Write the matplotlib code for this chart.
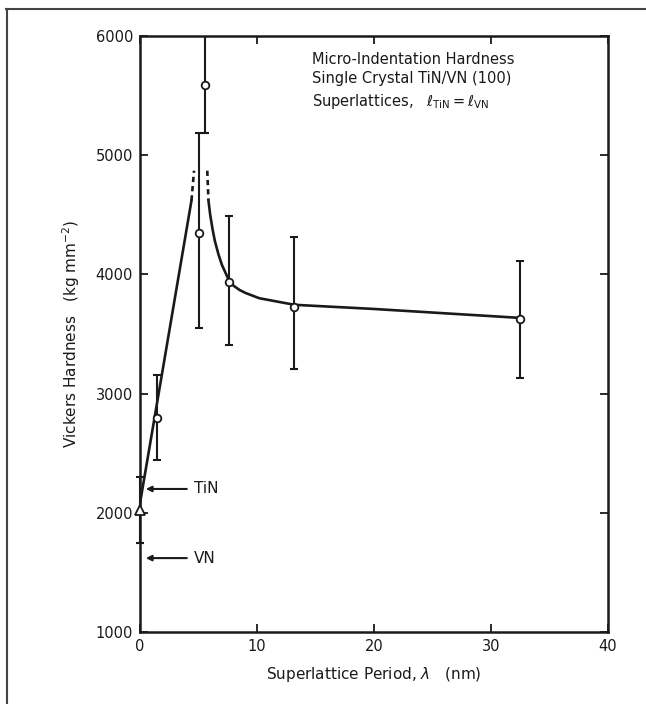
import matplotlib.pyplot as plt
from matplotlib.lines import Line2D

# measured hardness points with error bars
lam = [0.0, 1.45, 5.0, 5.55, 7.6, 13.2, 32.5]
hv = [2020, 2795, 4350, 5590, 3940, 3730, 3630]
err_lo = [1750, 2445, 3550, 5190, 3410, 3210, 3130]
err_hi = [2300, 3155, 5190, 6400, 4490, 4310, 4115]

# guide curve through the data
rise_x = [0.0, 4.4]
rise_y = [2080, 4620]
peak_left_x = [4.4, 4.62]
peak_left_y = [4620, 4870]
peak_right_x = [5.75, 5.85]
peak_right_y = [4870, 4620]
fall_x = [5.85, 6.0, 6.2, 6.4, 6.7, 7.0, 7.6, 8.0, 8.5, 9.0, 10.2, 13.2, 20.0, 32.5]
fall_y = [4620, 4500, 4380, 4280, 4170, 4080, 3950, 3905, 3870, 3845, 3800, 3745, 3710, 3635]

# bulk reference values
tin_y = 2200
vn_y = 1620

fig = plt.figure(figsize=(6.46, 7.04), dpi=100)
ax = fig.add_axes([140 / 646, 1 - 632 / 704, 468 / 646, 596 / 704])

ink = "#1a1a1a"
lw = 1.9
ax.plot(rise_x, rise_y, color=ink, lw=lw)
ax.plot(peak_left_x, peak_left_y, color=ink, lw=lw, ls=(0, (2, 1.5)))
ax.plot(peak_right_x, peak_right_y, color=ink, lw=lw, ls=(0, (2, 1.5)))
ax.plot(fall_x, fall_y, color=ink, lw=lw)

yerr = [[h - lo for h, lo in zip(hv, err_lo)], [hi - h for h, hi in zip(hv, err_hi)]]
eb = ax.errorbar(lam, hv, yerr=yerr, fmt="none", ecolor=ink, elinewidth=1.5,
                 capsize=3, capthick=1.5)
# the bar at zero sits on the spine, keep it whole
eb0 = ax.errorbar(lam[:1], hv[:1], yerr=[yerr[0][:1], yerr[1][:1]], fmt="none",
                  ecolor=ink, elinewidth=1.5, capsize=3, capthick=1.5)
for art in eb0.lines[1] + eb0.lines[2]:
    art.set_clip_on(False)
ax.plot(lam[1:], hv[1:], "o", ms=5.5, mfc="white", mec=ink, mew=1.3, zorder=5)
ax.plot(lam[:1], hv[:1], "^", ms=6.5, mfc="white", mec=ink, mew=1.3, zorder=5,
        clip_on=False)

for yv, name in [(tin_y, "TiN"), (vn_y, "VN")]:
    ax.annotate("", xy=(0.5, yv), xytext=(4.0, yv),
                arrowprops=dict(arrowstyle="-|>", color=ink, lw=1.5,
                                mutation_scale=8, shrinkA=0, shrinkB=0))
    ax.text(4.6, yv, name, ha="left", va="center", fontsize=11, color=ink)

ax.text(14.7, 5620,
        "Micro-Indentation Hardness\nSingle Crystal TiN/VN (100)\n"
        r"Superlattices,   $\ell_{\rm TiN} = \ell_{\rm VN}$",
        ha="left", va="center", fontsize=10.5, color=ink, linespacing=1.4)

ax.set_xlim(0, 40)
ax.set_ylim(1000, 6000)
ax.set_xticks([0, 10, 20, 30, 40])
ax.set_yticks([1000, 2000, 3000, 4000, 5000, 6000])
ax.tick_params(direction="in", length=6, width=1.3, top=True, right=True,
               labelsize=10.5, colors=ink, pad=5)
for s in ax.spines.values():
    s.set_linewidth(1.8)
    s.set_color(ink)

ax.set_xlabel(r"Superlattice Period, $\lambda$   (nm)", fontsize=11, color=ink, labelpad=8)
ax.set_ylabel(r"Vickers Hardness   (kg mm$^{-2}$)", fontsize=11, color=ink, labelpad=10)

# partial frame along the top and left edges
fig.add_artist(Line2D([6 / 646, 1.0], [1 - 9 / 704, 1 - 9 / 704], color="#444444", lw=1.5))
fig.add_artist(Line2D([7 / 646, 7 / 646], [0.0, 1 - 9 / 704], color="#444444", lw=1.5))

fig.savefig("out.png", dpi=100)
